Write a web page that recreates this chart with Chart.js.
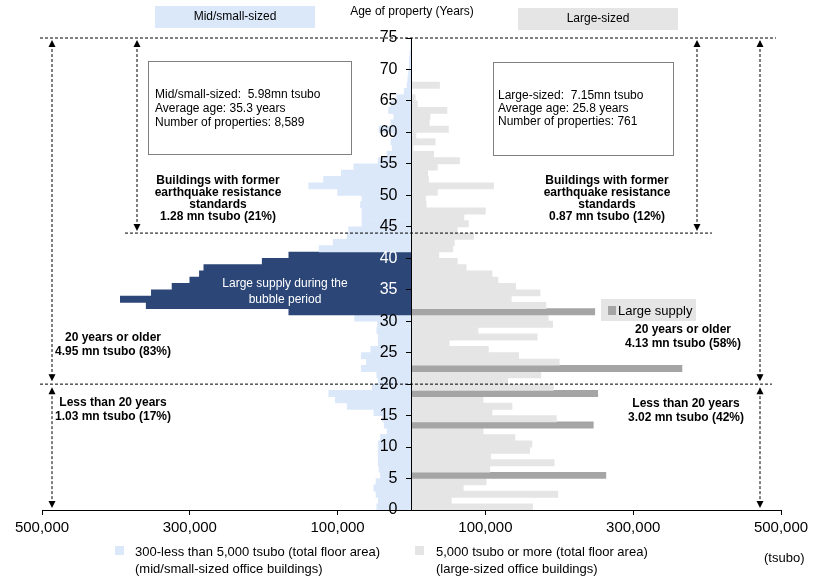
<!DOCTYPE html>
<html>
<head>
<meta charset="utf-8">
<script src="https://cdn.jsdelivr.net/npm/chart.js@4.4.1/dist/chart.umd.min.js"></script>
<style>
  html, body { margin: 0; padding: 0; background: #fff; }
  #wrap { position: relative; width: 820px; height: 580px; }
</style>
</head>
<body>
<div id="wrap"><canvas id="stockChart" width="820" height="580"></canvas></div>
<script>
// building age in years (one bar per year of age)
const ages = [
  0, 1, 2, 3, 4, 5, 6, 7, 8, 9,
  10, 11, 12, 13, 14, 15, 16, 17, 18, 19,
  20, 21, 22, 23, 24, 25, 26, 27, 28, 29,
  30, 31, 32, 33, 34, 35, 36, 37, 38, 39,
  40, 41, 42, 43, 44, 45, 46, 47, 48, 49,
  50, 51, 52, 53, 54, 55, 56, 57, 58, 59,
  60, 61, 62, 63, 64, 65, 66, 67, 68, 69,
  70, 71, 72, 73, 74
];

// office stock by age, thousand tsubo
const midSmallStock = [
  47, 45, 48, 51, 48, 42, 44, 45, 45, 45,
  45, 42, 33, 37, 39, 51, 87, 103, 112, 53,
  45, 47, 68, 61, 68, 55, 45, 45, 47, 46,
  77, 166, 359, 394, 352, 324, 300, 287, 281, 202,
  166, 125, 106, 87, 85, 67, 67, 67, 69, 67,
  100, 139, 119, 95, 78, 45, 33, 26, 28, 24,
  44, 28, 24, 31, 28, 20, 10, 6, 5, 4,
  3, 3, 2, 1, 1
];
const largeStock = [
  164, 54, 198, 70, 101, 263, 106, 193, 107, 160,
  163, 140, 97, 246, 196, 109, 136, 97, 252, 192,
  130, 175, 366, 200, 145, 104, 51, 170, 90, 191,
  185, 248, 182, 135, 174, 141, 117, 109, 74, 62,
  37, 56, 58, 84, 62, 77, 71, 100, 20, 19,
  35, 111, 23, 22, 35, 65, 30, 2, 32, 6,
  50, 24, 25, 48, 8, 5, 0, 38, 0, 0,
  0, 0, 0, 0, 0
];

// highlighted years
const bubbleAges = [31, 32, 33, 34, 35, 36, 37, 38, 39, 40];
const largeSupplyAges = [5, 13, 18, 22, 31];

// axis ticks
const stockTicks = [-500000, -300000, -100000, 100000, 300000, 500000];
const ageTicks = [0, 5, 10, 15, 20, 25, 30, 35, 40, 45, 50, 55, 60, 65, 70, 75];

const LIGHT_BLUE = '#dbe8fa';
const DARK_BLUE = '#2b4677';
const LIGHT_GREY = '#e5e5e5';
const DARK_GREY = '#a5a5a5';
const FONT = 'Arial, "Liberation Sans", sans-serif';

Chart.defaults.font.family = FONT;
Chart.defaults.color = '#000';

function dashH(ctx, y, x1, x2) {
  ctx.beginPath();
  ctx.moveTo(x1, y);
  ctx.lineTo(x2, y);
  ctx.stroke();
}

function arrowHead(ctx, x, y, dir) {
  ctx.beginPath();
  ctx.moveTo(x, y);
  ctx.lineTo(x - 3.5, y - 7 * dir);
  ctx.lineTo(x + 3.5, y - 7 * dir);
  ctx.closePath();
  ctx.fill();
}

function dashArrow(ctx, x, yTop, yBottom) {
  ctx.beginPath();
  ctx.moveTo(x, yTop + 4);
  ctx.lineTo(x, yBottom - 4);
  ctx.stroke();
  ctx.save();
  ctx.setLineDash([]);
  arrowHead(ctx, x, yTop, -1);
  arrowHead(ctx, x, yBottom, 1);
  ctx.restore();
}

function lines(ctx, arr, x, y, step) {
  arr.forEach((t, i) => ctx.fillText(t, x, y + i * step));
}

const annotate = {
  id: 'annotate',
  afterDraw(chart) {
    const { ctx, scales: { y } } = chart;
    const y75 = y.getPixelForValue(75);
    const y44 = y.getPixelForValue(44);
    const y20 = y.getPixelForValue(20);
    const y0 = y.getPixelForValue(0);

    ctx.save();
    ctx.textBaseline = 'middle';

    // header tabs
    ctx.fillStyle = LIGHT_BLUE;
    ctx.fillRect(155, 6, 160, 22);
    ctx.fillStyle = LIGHT_GREY;
    ctx.fillRect(518, 8, 160, 22);
    ctx.fillStyle = '#000';
    ctx.font = '12px ' + FONT;
    ctx.textAlign = 'center';
    ctx.fillText('Mid/small-sized', 235, 17);
    ctx.fillText('Large-sized', 598, 19);
    ctx.fillText('Age of property (Years)', 412, 12);

    // dashed guides and arrows
    ctx.strokeStyle = '#000';
    ctx.fillStyle = '#000';
    ctx.lineWidth = 1;
    ctx.setLineDash([3, 2]);
    dashH(ctx, y75, 40, 776);
    dashH(ctx, y44, 125, 712);
    dashH(ctx, y20, 40, 772);
    dashArrow(ctx, 52, y75 + 2, y20 - 3);
    dashArrow(ctx, 52, y20 + 3, y0 - 2);
    dashArrow(ctx, 760, y75 + 2, y20 - 3);
    dashArrow(ctx, 760, y20 + 3, y0 - 2);
    dashArrow(ctx, 137, y75 + 2, y44 - 2);
    dashArrow(ctx, 697, y75 + 2, y44 - 2);
    ctx.setLineDash([]);

    // summary boxes
    ctx.fillStyle = '#fff';
    ctx.strokeStyle = '#808080';
    ctx.fillRect(148.5, 61.5, 203, 93);
    ctx.strokeRect(148.5, 61.5, 203, 93);
    ctx.fillRect(493.5, 62.5, 180, 93);
    ctx.strokeRect(493.5, 62.5, 180, 93);
    ctx.fillStyle = '#000';
    ctx.textAlign = 'left';
    ctx.font = '12px ' + FONT;
    lines(ctx, ['Mid/small-sized:  5.98mn tsubo', 'Average age: 35.3 years', 'Number of properties: 8,589'], 155, 95, 14);
    lines(ctx, ['Large-sized:  7.15mn tsubo', 'Average age: 25.8 years', 'Number of properties: 761'], 498, 96, 13);

    // bold captions
    ctx.font = 'bold 12px ' + FONT;
    ctx.textAlign = 'center';
    const quake = ['Buildings with former', 'earthquake resistance', 'standards'];
    lines(ctx, quake.concat('1.28 mn tsubo (21%)'), 218, 181, 11.8);
    lines(ctx, quake.concat('0.87 mn tsubo (12%)'), 607, 181, 11.8);
    lines(ctx, ['20 years or older', '4.95 mn tsubo (83%)'], 113, 338, 14);
    lines(ctx, ['Less than 20 years', '1.03 mn tsubo (17%)'], 113, 403, 14);
    lines(ctx, ['20 years or older', '4.13 mn tsubo (58%)'], 683, 330, 14);
    lines(ctx, ['Less than 20 years', '3.02 mn tsubo (42%)'], 686, 404, 14);

    // bubble period caption
    ctx.font = '12px ' + FONT;
    ctx.fillStyle = '#fff';
    lines(ctx, ['Large supply during the', 'bubble period'], 285, 284, 16);

    // large supply key
    ctx.fillStyle = LIGHT_GREY;
    ctx.fillRect(601, 299, 95, 22);
    ctx.fillStyle = DARK_GREY;
    ctx.fillRect(608, 306, 8, 9);
    ctx.fillStyle = '#000';
    ctx.textAlign = 'left';
    ctx.font = '13px ' + FONT;
    ctx.fillText('Large supply', 618, 311);

    // series key at the bottom
    ctx.font = '13px ' + FONT;
    ctx.fillStyle = LIGHT_BLUE;
    ctx.fillRect(115, 546, 9, 9);
    ctx.fillStyle = LIGHT_GREY;
    ctx.fillRect(415, 546, 9, 9);
    ctx.fillStyle = '#000';
    lines(ctx, ['300-less than 5,000 tsubo (total floor area)', '(mid/small-sized office buildings)'], 135, 552, 17);
    lines(ctx, ['5,000 tsubo or more (total floor area)', '(large-sized office buildings)'], 436, 552, 17);
    ctx.fillText('(tsubo)', 764, 558);

    ctx.restore();
  }
};

new Chart(document.getElementById('stockChart'), {
  type: 'bar',
  data: {
    datasets: [
      {
        label: 'Mid/small-sized',
        data: ages.map((a, i) => ({ x: -midSmallStock[i] * 1000, y: a + 0.5 })),
        backgroundColor: ages.map(a => bubbleAges.includes(a) ? DARK_BLUE : LIGHT_BLUE)
      },
      {
        label: 'Large-sized',
        data: ages.map((a, i) => ({ x: largeStock[i] * 1000, y: a + 0.5 })),
        backgroundColor: ages.map(a => largeSupplyAges.includes(a) ? DARK_GREY : LIGHT_GREY)
      }
    ]
  },
  options: {
    indexAxis: 'y',
    responsive: false,
    animation: false,
    devicePixelRatio: 1,
    layout: { padding: { left: 42, right: 39, top: 38, bottom: 0 } },
    datasets: {
      bar: { grouped: false, categoryPercentage: 1, barPercentage: 1, borderWidth: 0 }
    },
    plugins: { legend: { display: false }, tooltip: { enabled: false } },
    scales: {
      x: {
        type: 'linear',
        min: -500000,
        max: 500000,
        position: 'bottom',
        afterBuildTicks: s => { s.ticks = stockTicks.map(v => ({ value: v })); },
        afterFit: s => { s.height = 70; },
        grid: { drawOnChartArea: false, tickLength: 5, color: '#000' },
        border: { color: '#000' },
        ticks: {
          autoSkip: false,
          maxRotation: 0,
          padding: 4,
          font: { size: 15 },
          color: '#000',
          callback: v => Math.abs(v).toLocaleString('en-US')
        }
      },
      y: {
        type: 'linear',
        min: 0,
        max: 75,
        offset: false,
        position: 'center',
        afterBuildTicks: s => { s.ticks = ageTicks.map(v => ({ value: v })); },
        grid: { offset: false, drawOnChartArea: false, tickLength: 5, color: '#000', z: 1 },
        border: { color: '#000', z: 1 },
        ticks: {
          z: 1,
          padding: 9,
          font: { size: 16 },
          color: c => (c.tick && (c.tick.value === 35 || c.tick.value === 40)) ? '#fff' : '#000'
        }
      }
    }
  },
  plugins: [annotate]
});
</script>
</body>
</html>
